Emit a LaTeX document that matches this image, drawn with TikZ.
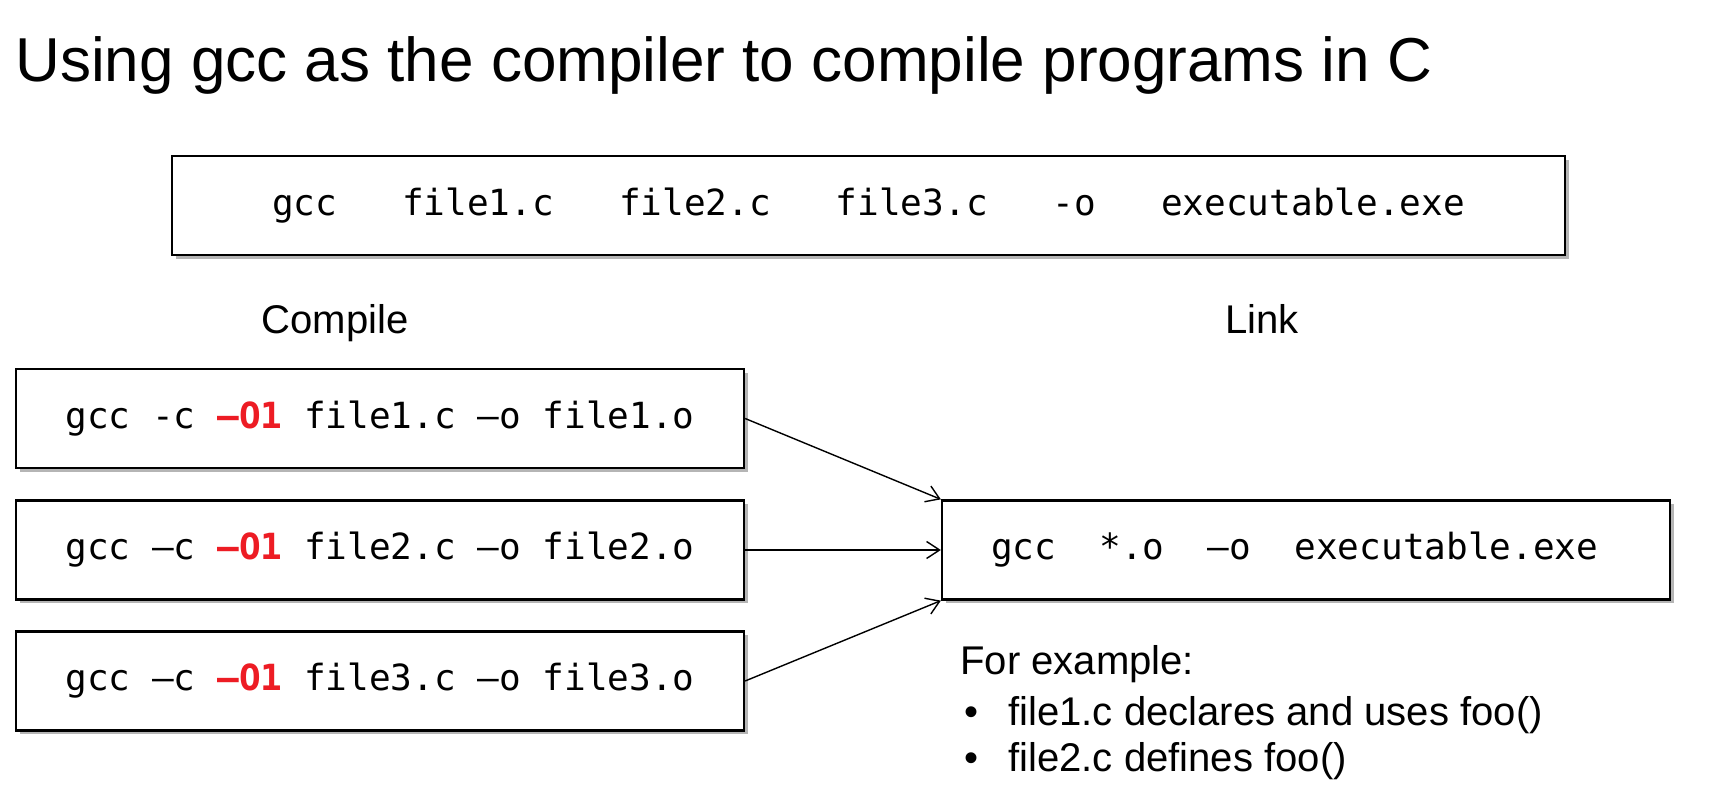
\documentclass[tikz,border=0pt]{standalone}
\usepackage{fontspec}
\setmainfont{Liberation Sans}
\setmonofont{DejaVu Sans Mono}
\usepackage{xcolor}
\usepackage{tikz}
\usetikzlibrary{arrows.meta,positioning,shadows}
\definecolor{optred}{RGB}{237,28,36}
\definecolor{shadegrey}{RGB}{150,150,150}
\tikzset{
  >={Straight Barb[length=2.6mm,width=3.4mm]},
  flow/.style={->, line width=0.8pt, draw=black},
  cmdbox/.style={
    draw=black,
    line width=1.3pt,
    fill=white,
    minimum width=14.56cm,
    minimum height=1.98cm,
    inner sep=0pt,
    font=\ttfamily\fontsize{20.5}{24}\selectfont,
    drop shadow={shadow xshift=0.07cm, shadow yshift=-0.08cm,
      fill=shadegrey, opacity=0.7}
  },
  widebox/.style={cmdbox, minimum width=27.86cm},
  steplabel/.style={font=\fontsize{22.8}{26.2}\selectfont, anchor=base, inner sep=0pt},
  notetext/.style={steplabel, anchor=base west},
  titletext/.style={font=\fontsize{35.3}{42}\selectfont, anchor=base west, inner sep=0pt}
}
\newcommand{\optflag}{\textcolor{optred}{\bfseries –O1}}
\newcommand{\itemmark}{\makebox[0.88cm][l]{\textbullet}}

\begin{document}
\begin{tikzpicture}
  \useasboundingbox (0,0) rectangle (34.28,-15.86);

  \node[titletext] (title) at (0.3,-1.64)
    {Using gcc as the compiler to compile programs in C};

  % one command for everything
  \node[widebox] (allinone) at (17.37,-4.11)
    {gcc\ \ \ file1.c\ \ \ file2.c\ \ \ file3.c\ \ \ -o\ \ \ executable.exe};

  \node[steplabel] (compilelabel) at (6.7,-6.68) {Compile};
  \node[steplabel] (linklabel) at (25.24,-6.68) {Link};

  % separate compile steps
  \node[cmdbox] (compile1) at (7.6,-8.37)
    {gcc -c \optflag{} file1.c –o file1.o};
  \node[cmdbox] (compile2) at (7.6,-11.0)
    {gcc –c \optflag{} file2.c –o file2.o};
  \node[cmdbox] (compile3) at (7.6,-13.62)
    {gcc –c \optflag{} file3.c –o file3.o};

  \node[cmdbox] (link) at (26.12,-11.0)
    {\makebox[12.6cm][l]{gcc\ \ *.o\ \ –o\ \ executable.exe}};

  \draw[flow] (compile1.east) -- (link.north west);
  \draw[flow] (compile2.east) -- (link.west);
  \draw[flow] (compile3.east) -- (link.south west);

  \node[notetext] (example) at (19.2,-13.49) {For example:};
  \node[notetext] (item1) at (19.28,-14.52)
    {\itemmark file1.c declares and uses foo()};
  \node[notetext] (item2) at (19.28,-15.44)
    {\itemmark file2.c defines foo()};
\end{tikzpicture}
\end{document}
